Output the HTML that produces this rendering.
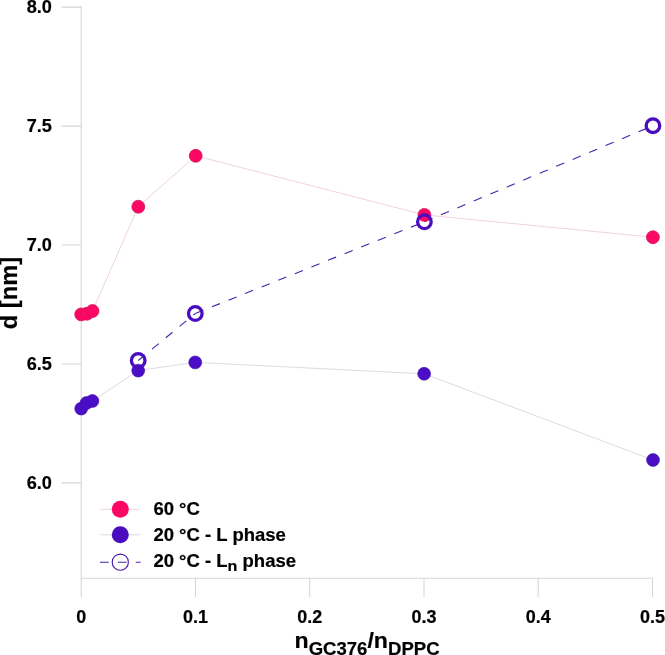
<!DOCTYPE html>
<html><head><meta charset="utf-8">
<style>
html,body{margin:0;padding:0;background:#fff;}
body{width:665px;height:655px;overflow:hidden;}
svg{display:block;will-change:transform;opacity:0.999;}
text{font-family:"Liberation Sans",sans-serif;font-weight:bold;fill:#000;stroke:#000;stroke-width:0.2px;stroke-linejoin:round;}
</style></head>
<body>
<svg width="665" height="655" viewBox="0 0 665 655">
<rect width="665" height="655" fill="#fff"/>
<g stroke="#d6d6d6" stroke-width="1.1" fill="none">
<path d="M81.2 6.5 V578.3"/><path d="M80.6 578.3 H653"/>
<path d="M61.6 7.1 H81.2 M61.6 126.1 H81.2 M61.6 245.0 H81.2 M61.6 364.0 H81.2 M61.6 482.9 H81.2"/>
<path d="M81.2 578.3 V597 M195.5 578.3 V597 M309.7 578.3 V597 M424.0 578.3 V597 M538.2 578.3 V597 M652.5 578.3 V597"/>
</g>
<text transform="translate(51.9 13.3) scale(1.03 1)" font-size="17.6" text-anchor="end">8.0</text>
<text transform="translate(51.9 132.3) scale(1.03 1)" font-size="17.6" text-anchor="end">7.5</text>
<text transform="translate(51.9 251.2) scale(1.03 1)" font-size="17.6" text-anchor="end">7.0</text>
<text transform="translate(51.9 370.2) scale(1.03 1)" font-size="17.6" text-anchor="end">6.5</text>
<text transform="translate(51.9 489.1) scale(1.03 1)" font-size="17.6" text-anchor="end">6.0</text>
<text transform="translate(81.2 622.9) scale(1.02 1)" font-size="17.6" text-anchor="middle">0</text>
<text transform="translate(195.5 622.9) scale(1.02 1)" font-size="17.6" text-anchor="middle">0.1</text>
<text transform="translate(309.7 622.9) scale(1.02 1)" font-size="17.6" text-anchor="middle">0.2</text>
<text transform="translate(424.0 622.9) scale(1.02 1)" font-size="17.6" text-anchor="middle">0.3</text>
<text transform="translate(538.2 622.9) scale(1.02 1)" font-size="17.6" text-anchor="middle">0.4</text>
<text transform="translate(652.5 622.9) scale(1.02 1)" font-size="17.6" text-anchor="middle">0.5</text>
<text transform="translate(17.2 293.1) rotate(-90) scale(1.03 1)" font-size="23" text-anchor="middle">d [nm]</text>
<text transform="translate(294.5 648) scale(1.043 1)" font-size="22.2">n<tspan font-size="17.8" dy="6.6">GC376</tspan><tspan dy="-6.6">/n</tspan><tspan font-size="17.8" dy="6.6">DPPC</tspan></text>
<polyline fill="none" stroke="#ebc8d5" stroke-width="0.8" points="81.2,314.4 87,313.7 92.5,311 138.3,206.7 195.7,155.8 424.4,214.9 652.9,237.2"/>
<polyline fill="none" stroke="#d3d1da" stroke-width="0.8" points="81.2,408.6 86.5,403 92.4,401.0 138.2,370.6 195.2,362.4 424.15,373.75 653.0,460.0"/>
<line x1="138.2" y1="360.5" x2="195.3" y2="313.5" stroke="#4722ac" stroke-width="1.1" stroke-dasharray="8.7 9.17"/>
<line x1="195.3" y1="313.5" x2="424.4" y2="221.75" stroke="#4722ac" stroke-width="1.1" stroke-dasharray="8.7 9.17"/>
<line x1="424.4" y1="221.75" x2="652.95" y2="125.7" stroke="#4722ac" stroke-width="1.1" stroke-dasharray="8.7 9.17"/>
<g fill="#fc0763" stroke="#d8115a" stroke-width="0.8"><circle cx="81.2" cy="314.4" r="6.45"/><circle cx="87" cy="313.7" r="6.45"/><circle cx="92.5" cy="311" r="6.45"/><circle cx="138.3" cy="206.7" r="6.45"/><circle cx="195.7" cy="155.8" r="6.45"/><circle cx="424.4" cy="214.9" r="6.45"/><circle cx="652.9" cy="237.2" r="6.45"/></g>
<g fill="#4b0ec6" stroke="#3f0cae" stroke-width="0.6"><circle cx="81.2" cy="408.6" r="6.45"/><circle cx="86.5" cy="403" r="6.45"/><circle cx="92.4" cy="401.0" r="6.45"/><circle cx="138.2" cy="370.6" r="6.45"/><circle cx="195.2" cy="362.4" r="6.45"/><circle cx="424.15" cy="373.75" r="6.45"/><circle cx="653.0" cy="460.0" r="6.45"/></g>
<g fill="none" stroke="#490dbf" stroke-width="3.3"><circle cx="138.2" cy="360.5" r="6.8"/><circle cx="195.3" cy="313.5" r="6.8"/><circle cx="424.4" cy="221.75" r="6.8"/><circle cx="652.95" cy="125.7" r="6.8"/></g>
<line x1="100" y1="509.3" x2="140.6" y2="509.3" stroke="#ebc8d5" stroke-width="0.8"/>
<circle cx="120.3" cy="509.3" r="8.5" fill="#fc0763"/>
<line x1="100" y1="534.8" x2="140.6" y2="534.8" stroke="#d3d1da" stroke-width="0.8"/>
<circle cx="120.3" cy="534.8" r="8.5" fill="#490dbf"/>
<line x1="100" y1="562.2" x2="140.6" y2="562.2" stroke="#4722ac" stroke-width="1.1" stroke-dasharray="8.7 9.17"/>
<circle cx="120.3" cy="562.2" r="8.1" fill="none" stroke="#4416b0" stroke-width="1.1"/>
<text transform="translate(153.4 515.4) scale(1.04 1)" font-size="17.8" text-anchor="start">60 °C</text>
<text transform="translate(153.4 540.7) scale(1.04 1)" font-size="17.8" text-anchor="start">20 °C - L phase</text>
<text transform="translate(153.4 566.5) scale(1.04 1)" font-size="17.8" text-anchor="start">20 °C - L<tspan font-size="15.5" dy="4.1">n</tspan><tspan dy="-4.1"> phase</tspan></text>
</svg>
</body></html>
